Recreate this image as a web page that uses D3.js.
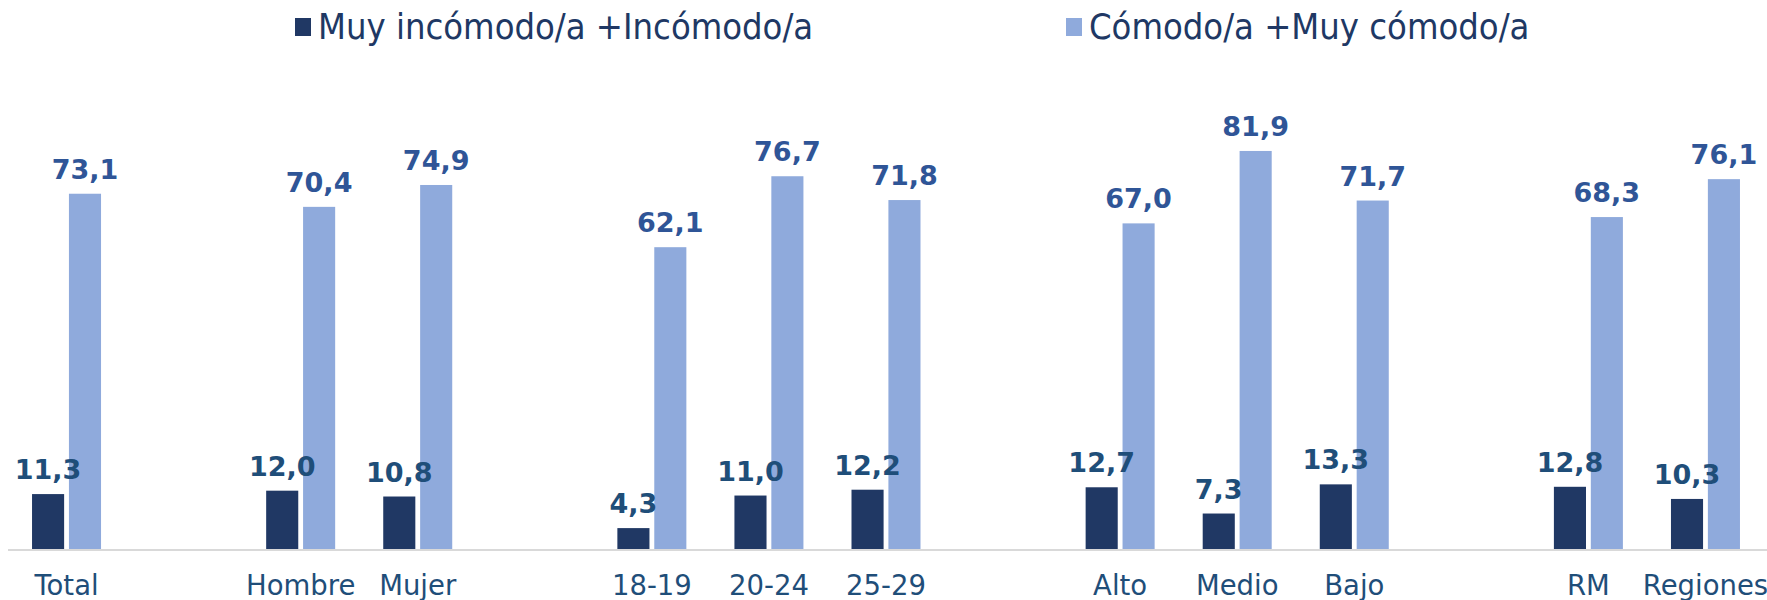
<!DOCTYPE html>
<html>
<head>
<meta charset="utf-8">
<script src="https://cdn.jsdelivr.net/npm/d3@7"></script>
<style>
  body { margin: 0; background: #fff; }
  svg { display: block; }
</style>
</head>
<body>
<script>
// data ("" = empty slot between groups)
var categories = ["Total", "", "Hombre", "Mujer", "", "18-19", "20-24", "25-29", "", "Alto", "Medio", "Bajo", "", "RM", "Regiones"];
var incomodo = [11.3, null, 12.0, 10.8, null, 4.3, 11.0, 12.2, null, 12.7, 7.3, 13.3, null, 12.8, 10.3];
var comodo   = [73.1, null, 70.4, 74.9, null, 62.1, 76.7, 71.8, null, 67.0, 81.9, 71.7, null, 68.3, 76.1];
var seriesNames = ["Muy incómodo/a +Incómodo/a", "Cómodo/a +Muy cómodo/a"];

var width = 1767, height = 600;
var colors = ["#203864", "#8faadc"];
var labelColors = ["#1f4e79", "#2f5597"];

var svg = d3.select("body").append("svg")
    .attr("width", width)
    .attr("height", height);

var x = d3.scaleBand()
    .domain(d3.range(categories.length))
    .range([8, 1764]);

var x1 = d3.scaleBand()
    .domain([0, 1])
    .range([-34.5, 34.5])
    .paddingInner(9 / 34.5 / 2);

var y = d3.scaleLinear()
    .domain([0, 100])
    .range([549, 63]);

// axis line
svg.append("line")
    .attr("x1", 8).attr("x2", width)
    .attr("y1", y(0) + 1).attr("y2", y(0) + 1)
    .attr("stroke", "#d9d9d9")
    .attr("stroke-width", 2);

var series = [incomodo, comodo];
var pts = series.map(function(vals) {
    return vals.map(function(v, i) { return {i: i, v: v}; })
        .filter(function(d) { return d.v != null; });
});

var barLayer = svg.append("g");
var labelLayer = svg.append("g");

series.forEach(function(vals, s) {
    barLayer.append("g").selectAll("rect")
        .data(pts[s])
        .join("rect")
        .attr("x", function(d) { return x(d.i) + x.bandwidth() / 2 + x1(s); })
        .attr("width", x1.bandwidth())
        .attr("y", function(d) { return y(d.v); })
        .attr("height", function(d) { return y(0) - y(d.v); })
        .attr("fill", colors[s]);

    labelLayer.append("g").selectAll("text")
        .data(pts[s])
        .join("text")
        .attr("x", function(d) { return x(d.i) + x.bandwidth() / 2 + x1(s) + x1.bandwidth() / 2; })
        .attr("y", function(d) { return y(d.v) - 15; })
        .attr("text-anchor", "middle")
        .attr("font-family", "DejaVu Sans, Verdana, sans-serif")
        .attr("font-weight", "bold")
        .attr("font-size", 27)
        .attr("fill", labelColors[s])
        .text(function(d) { return d3.format(".1f")(d.v).replace(".", ","); });
});

// category labels
svg.append("g").selectAll("text")
    .data(categories.map(function(c, i) { return {c: c, i: i}; }).filter(function(d) { return d.c; }))
    .join("text")
    .attr("x", function(d) { return x(d.i) + x.bandwidth() / 2; })
    .attr("y", 595)
    .attr("text-anchor", "middle")
    .attr("font-family", "DejaVu Sans, Verdana, sans-serif")
    .attr("font-size", 27.5)
    .attr("fill", "#1f4e79")
    .text(function(d) { return d.c; });

// legend
var legendX = [295, 1066];
var legend = svg.append("g").selectAll("g")
    .data(seriesNames)
    .join("g")
    .attr("transform", function(d, i) { return "translate(" + legendX[i] + ",0)"; });

legend.append("rect")
    .attr("x", 0).attr("y", 18)
    .attr("width", 16).attr("height", 18)
    .attr("fill", function(d, i) { return colors[i]; });

legend.append("text")
    .attr("x", 23)
    .attr("y", 39)
    .attr("font-family", "DejaVu Sans Condensed, DejaVu Sans, sans-serif")
    .attr("font-size", 36)
    .attr("fill", "#203864")
    .text(function(d) { return d; });
</script>
</body>
</html>
